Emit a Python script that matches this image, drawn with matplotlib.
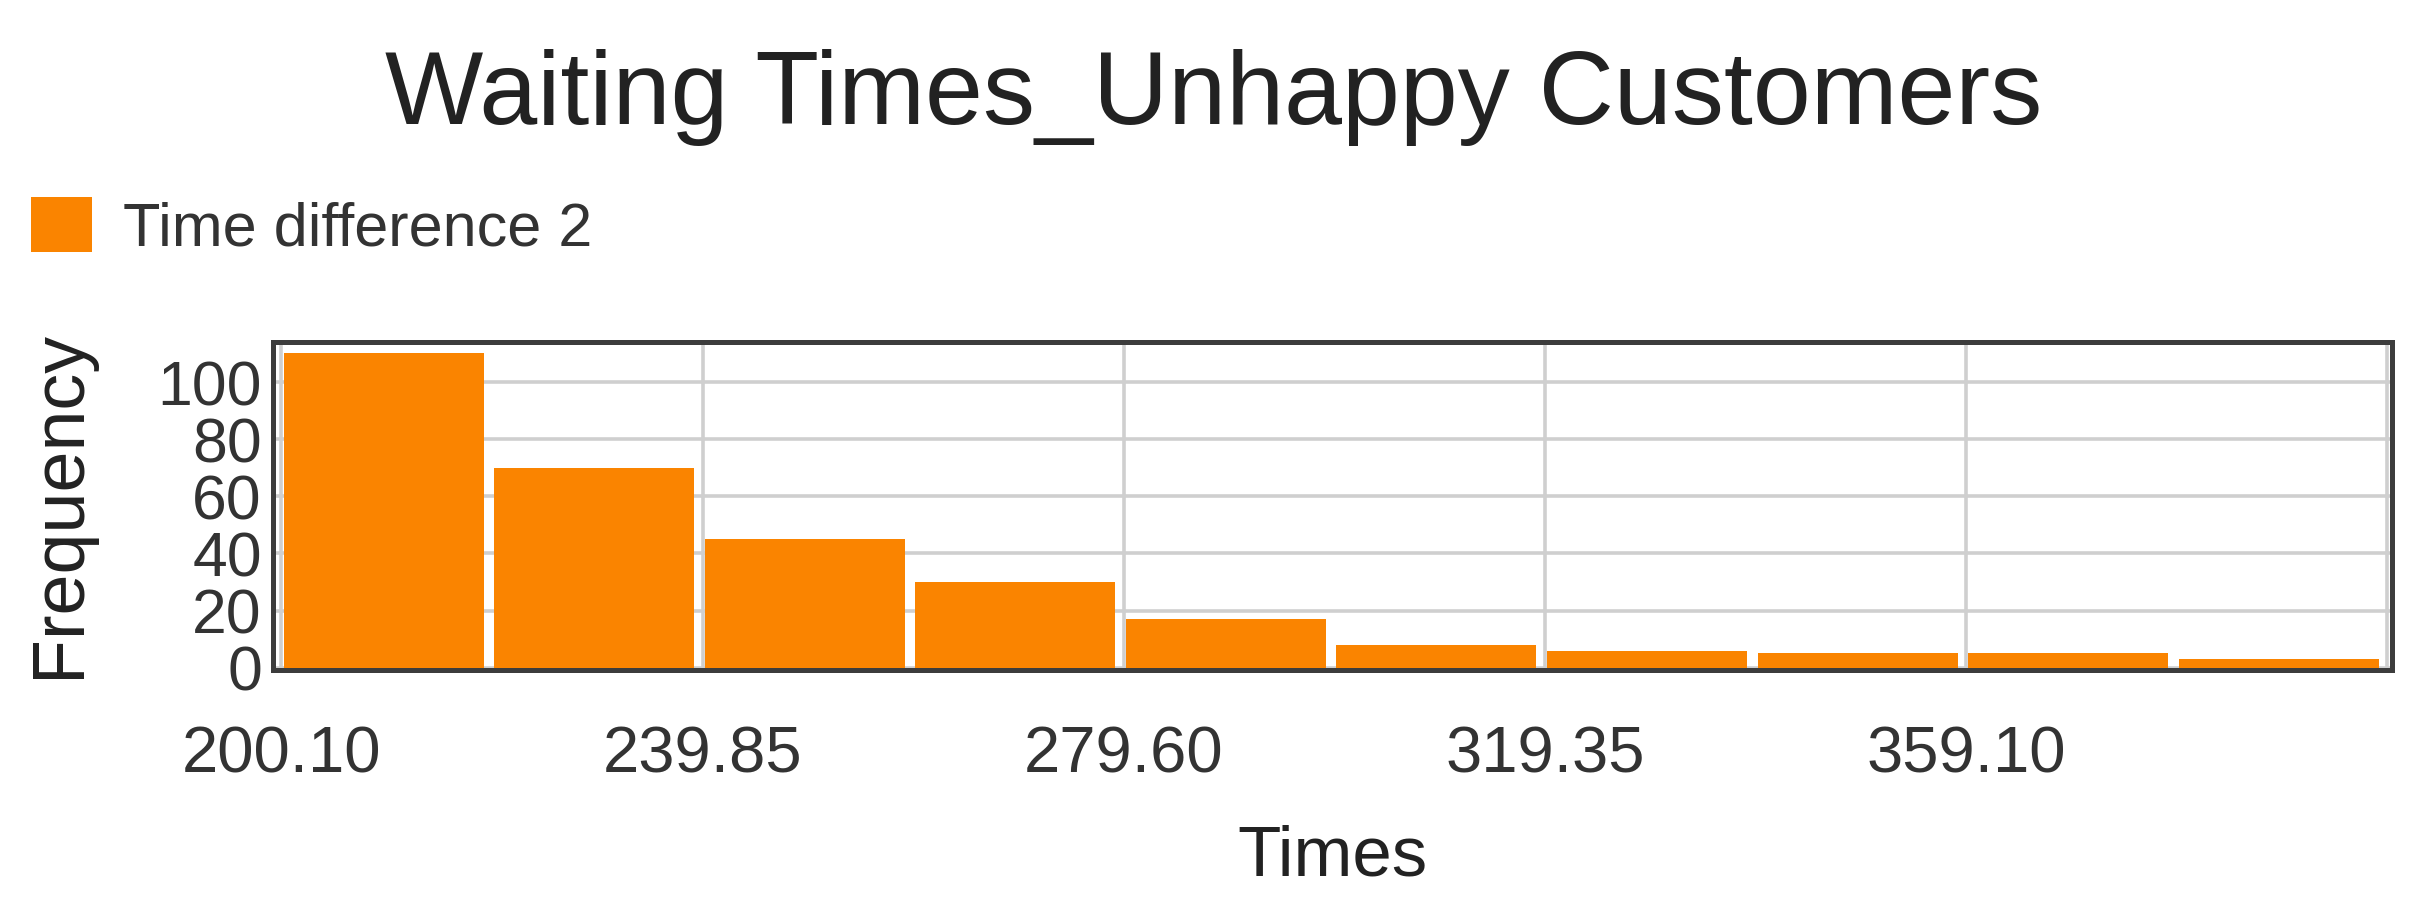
import matplotlib
matplotlib.use("Agg")
import matplotlib.pyplot as plt
from matplotlib.patches import Patch

plt.rcParams['font.family'] = ['Liberation Sans', 'DejaVu Sans']

# ---- data ----
bin_edges = [200.10, 219.975, 239.85, 259.725, 279.60, 299.475,
             319.35, 339.225, 359.10, 378.975, 398.85]
counts = [110, 70, 45, 30, 17, 8, 6, 5, 5, 3]
x_ticks = [200.10, 239.85, 279.60, 319.35, 359.10]
x_tick_labels = ["200.10", "239.85", "279.60", "319.35", "359.10"]
y_ticks = [0, 20, 40, 60, 80, 100]
series_label = "Time difference 2"
title = "Waiting Times_Unhappy Customers"

W, H = 2427, 911
fig = plt.figure(figsize=(W / 100, H / 100), dpi=100)
ax = fig.add_axes([273 / W, 1 - 670 / H, (2392 - 273) / W, (670 - 342) / H])

bar_color = '#FA8400'
gap_left, gap_total = 0.2, 1.0
lefts = [bin_edges[i] + gap_left for i in range(len(counts))]
widths = [bin_edges[i + 1] - bin_edges[i] - gap_total for i in range(len(counts))]
ax.bar(lefts, counts, width=widths, align='edge', color=bar_color,
       linewidth=0, zorder=3)

ax.set_xlim(199.3, 399.3)
ax.set_ylim(-0.8, 114)
ax.set_xticks(x_ticks)
ax.set_xticklabels(x_tick_labels)
ax.set_xticks([bin_edges[-1]], minor=True)
ax.set_yticks(y_ticks)
ax.tick_params(axis='both', length=0, colors='#333333')
ax.tick_params(axis='x', which='both', length=0, pad=40, labelsize=47)
ax.tick_params(axis='y', pad=8, labelsize=45)
ax.set_axisbelow(True)
ax.grid(True, which='major', color='#cfcfcf', linewidth=2.6)
ax.grid(True, which='minor', axis='x', color='#cfcfcf', linewidth=2.6)
for s in ax.spines.values():
    s.set_color('#3c3c3c')
    s.set_linewidth(3.6)
    s.set_zorder(5)

fig.text(0.5, 1 - 124 / H, title, ha='center', va='baseline',
         fontsize=75, color='#222222')
fig.text((273 + 2392) / 2 / W, 1 - 875 / H, "Times", ha='center',
         va='baseline', fontsize=51, color='#222222')
fig.text(60 / W, 1 - 504 / H, "Frequency", ha='center', va='center',
         rotation=90, fontsize=53, color='#222222')

handle = Patch(facecolor=bar_color, edgecolor='none', label=series_label)
fig.legend(handles=[handle], loc='center left',
           bbox_to_anchor=(31 / W, 1 - 228 / H), frameon=False,
           fontsize=44, handlelength=1.0, handleheight=1.0,
           handletextpad=0.5, borderaxespad=0, borderpad=0,
           labelcolor='#333333')

fig.savefig("out.png", dpi=100)
